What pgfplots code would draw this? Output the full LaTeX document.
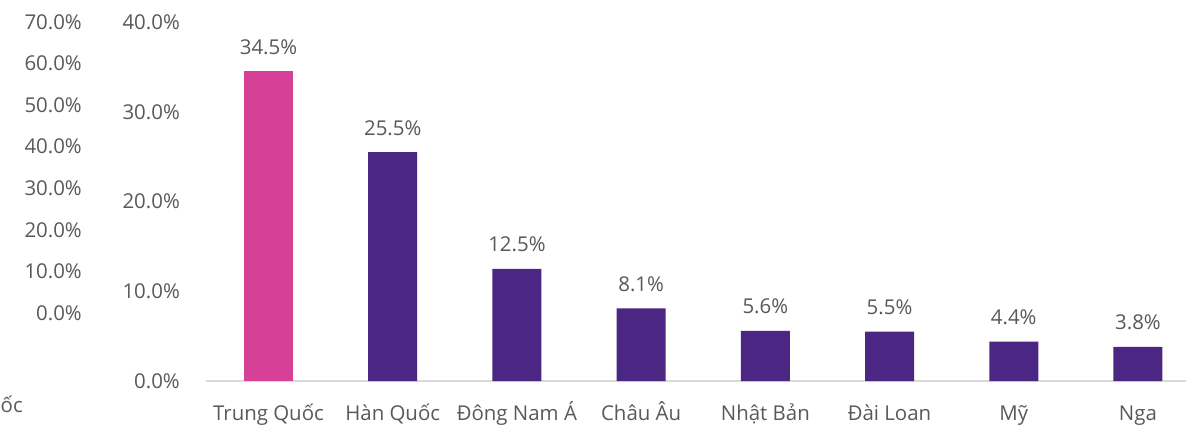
\documentclass[border=0pt]{standalone}
\usepackage{fontspec}
\setmainfont{Open Sans}
\usepackage{pgfplots}
\pgfplotsset{compat=1.18}
\definecolor{pinkbar}{RGB}{214,64,151}
\definecolor{purplebar}{RGB}{75,38,130}
\definecolor{txt}{RGB}{89,89,89}
\definecolor{base}{RGB}{217,217,217}
\newcommand{\lblfont}{\fontsize{20.5}{24}\selectfont}
\begin{document}
\begin{tikzpicture}[x=1bp,y=1bp]
\useasboundingbox (0,0) rectangle (1186,-425);
% ghost (partially visible) axis on the left
\begin{axis}[
  at={(82bp,-313bp)}, anchor=south west,
  scale only axis, width=10bp, height=291bp,
  xmin=0, xmax=1, ymin=0, ymax=70,
  ytick={0,10,...,70},
  hide x axis,
  axis y line*=left,
  y axis line style={draw=none},
  major tick length=0pt,
  /pgf/number format/assume math mode=true,
  yticklabel={\pgfmathprintnumber[fixed,fixed zerofill,precision=1]{\tick}\%},
  yticklabel style={font=\lblfont, text=txt, inner sep=0pt, anchor=east},
]
\addplot[draw=none] coordinates {(0,0)};
\end{axis}
\node[font=\lblfont, text=txt, anchor=west, inner sep=0pt] at (0.5,-404) {ốc};
% main axis
\begin{axis}[
  at={(206.4bp,-381bp)}, anchor=south west,
  scale only axis, width=979.6bp, height=359bp,
  xmin=-0.5, xmax=7.387, ymin=0, ymax=40,
  xtick={0,...,7},
  xticklabels={Trung Quốc, Hàn Quốc, Đông Nam Á, Châu Âu, Nhật Bản, Đài Loan, Mỹ, Nga},
  ytick={0,10,...,40},
  axis x line*=bottom,
  axis y line*=left,
  y axis line style={draw=none},
  x axis line style={draw=base, line width=1.5bp, -},
  major tick length=0pt,
  /pgf/number format/assume math mode=true,
  yticklabel={\pgfmathprintnumber[fixed,fixed zerofill,precision=1]{\tick}\%},
  yticklabel style={font=\lblfont, text=txt, inner sep=0pt, anchor=east, xshift=-26.4bp},
  xticklabel style={font=\lblfont, text=txt, inner sep=0pt, anchor=base, yshift=-39.5bp},
  ybar, bar width=49bp, bar shift=0pt,
  nodes near coords={\pgfmathprintnumber[fixed,fixed zerofill,precision=1]{\pgfplotspointmeta}\%},
  nodes near coords style={font=\lblfont, text=txt, inner sep=0pt, anchor=base, yshift=17bp},
  clip=false,
]
\addplot[fill=pinkbar, draw=none] coordinates {(0,34.5)};
\addplot[fill=purplebar, draw=none] coordinates {(1,25.5) (2,12.5) (3,8.1) (4,5.6) (5,5.5) (6,4.4) (7,3.8)};
\end{axis}
\end{tikzpicture}
\end{document}
